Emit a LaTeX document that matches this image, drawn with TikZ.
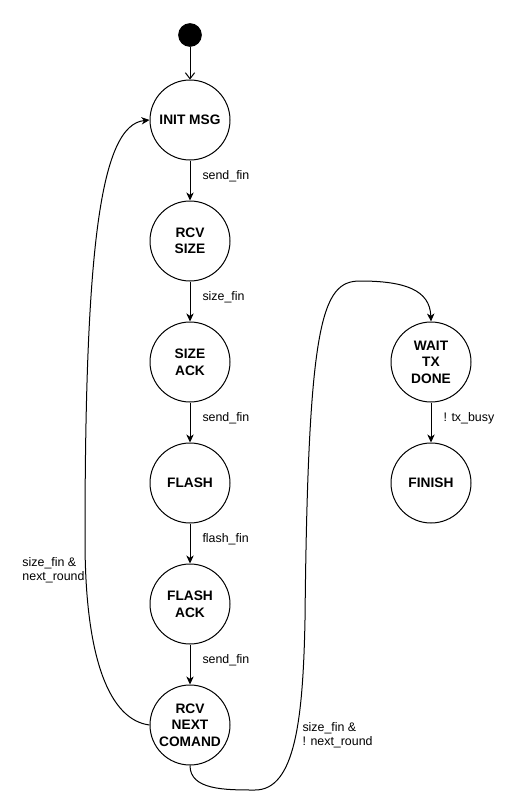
\documentclass[tikz,border=0pt]{standalone}
\usepackage{fontspec}
\setmainfont{Liberation Sans}
\usetikzlibrary{positioning,arrows.meta}

\begin{document}
\begin{tikzpicture}[x=0.75pt,y=-0.75pt]
        \tikzstyle{every path}=[line width=0.75pt]

        \tikzstyle{state}=[draw,circle,minimum size=60pt,inner sep=0pt,align=center,font=\bfseries\fontsize{10.3}{12.4}\selectfont]
        \tikzstyle{startdot}=[draw,circle,fill=black,minimum size=17pt,inner sep=0pt]
        \tikzstyle{trans}=[-{Stealth[length=6pt,width=5.5pt,inset=1.8pt]}]
        \tikzstyle{lbl}=[anchor=west,inner sep=0pt,align=left,font=\fontsize{9.3}{10.8}\selectfont]

        \useasboundingbox (0,0) rectangle (520,811);

        \node [startdot] (start) at (190,35) {};

        \begin{scope}[node distance=30pt]
        \node [state] (init) at (190,120) {INIT MSG};
        \node [state, below=of init] (rcvsize) {RCV\\SIZE};
        \node [state, below=of rcvsize] (sizeack) {SIZE\\ACK};
        \node [state, below=of sizeack] (flash) {FLASH};
        \node [state, below=of flash] (flashack) {FLASH\\ACK};
        \node [state, below=of flashack] (rcvnext) {RCV\\NEXT\\COMAND};
        \node [state, right=120pt of sizeack] (wait) {WAIT\\TX\\DONE};
        \node [state, below=of wait] (finish) {FINISH};
        \end{scope}

        \draw[-{Straight Barb[length=4.5pt,width=7pt]}] (start) -- (init);

        \draw[trans] (init) -- node[lbl, pos=0.4, xshift=9pt] (l_sendfin1) {send\_fin} (rcvsize);
        \draw[trans] (rcvsize) -- node[lbl, pos=0.4, xshift=9pt] (l_sizefin) {size\_fin} (sizeack);
        \draw[trans] (sizeack) -- node[lbl, pos=0.4, xshift=9pt] (l_sendfin2) {send\_fin} (flash);
        \draw[trans] (flash) -- node[lbl, pos=0.4, xshift=9pt] (l_flashfin) {flash\_fin} (flashack);
        \draw[trans] (flashack) -- node[lbl, pos=0.4, xshift=9pt] (l_sendfin3) {send\_fin} (rcvnext);
        \draw[trans] (wait) -- node[lbl, pos=0.4, xshift=9pt] (l_txbusy) {! tx\_busy} (finish);

        % next round -> back to init
        \draw[trans] (rcvnext.west) .. controls (110,720) and (85,660) .. (85,540)
                .. controls (85,250) and (100,125) .. (init.west);
        \node[lbl] (l_next) at (22,570) {size\_fin \&\\next\_round};

        % last round -> wait tx
        \draw[trans] (rcvnext.south) .. controls (190,790) and (225,790) .. (255,790)
                .. controls (295,790) and (303,720) .. (305,620)
                .. controls (308,320) and (322,281) .. (360,281)
                .. controls (405,281) and (430,290) .. (wait.north);
        \node[lbl] (l_last) at (302,735) {size\_fin \&\\! next\_round};

\end{tikzpicture}
\end{document}
